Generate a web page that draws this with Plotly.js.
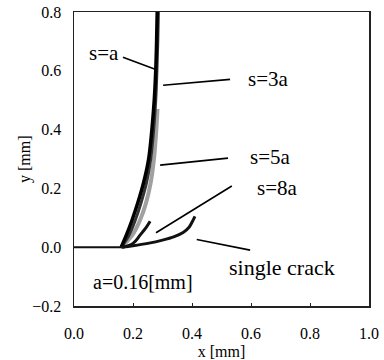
<!DOCTYPE html>
<html>
<head>
<meta charset="utf-8">
<script src="https://cdn.plot.ly/plotly-3.0.1.min.js"></script>
<style>html,body{margin:0;padding:0;background:#fff;}#chart{width:384px;height:360px;}</style>
</head>
<body>
<div id="chart"></div>
<script>
// Initial crack
const initX = [0.0, 0.16];
const initY = [0.0, 0.0];
// Crack paths for different spacing s
const sA_x  = [0.16, 0.177, 0.196, 0.216, 0.236, 0.253, 0.264, 0.272, 0.277, 0.280, 0.282];
const sA_y  = [0.00, 0.04, 0.09, 0.15, 0.22, 0.30, 0.40, 0.50, 0.60, 0.70, 0.80];
const s3A_x = [0.16, 0.186, 0.207, 0.227, 0.246, 0.260, 0.270, 0.277, 0.281, 0.284, 0.286];
const s3A_y = [0.00, 0.04, 0.09, 0.15, 0.22, 0.30, 0.40, 0.50, 0.60, 0.70, 0.80];
const s5A_x = [0.16, 0.197, 0.223, 0.244, 0.260, 0.271, 0.279, 0.283];
const s5A_y = [0.00, 0.04, 0.09, 0.15, 0.22, 0.30, 0.40, 0.47];
const s8A_x = [0.165, 0.20, 0.224, 0.246, 0.258];
const s8A_y = [0.00, 0.013, 0.041, 0.069, 0.088];
const single_x = [0.16, 0.20, 0.25, 0.30, 0.34, 0.37, 0.39, 0.40, 0.41];
const single_y = [0.00, 0.005, 0.013, 0.024, 0.036, 0.05, 0.068, 0.085, 0.105];
// Labels
const labels = ["s=a", "s=3a", "s=5a", "s=8a", "single crack"];
const noteText = "a=0.16[mm]";
const yTitle = "y [mm]";

const serif = "'Liberation Serif', 'Times New Roman', Times, serif";
const line = (x, y, color, w) => ({x, y, type: "scatter", mode: "lines", line: {color, width: w, shape: "spline"}, hoverinfo: "skip"});

const data = [
  line(initX, initY, "#111", 2),
  line(s5A_x, s5A_y, "#a0a0a0", 4),
  line(s3A_x, s3A_y, "#333", 3),
  line(sA_x, sA_y, "#000", 3.5),
  line(s8A_x, s8A_y, "#111", 3),
  line(single_x, single_y, "#111", 3)
];

// label placement (text centre) and leader line ends, in axis units
const labelPos = [[0.102, 0.66], [0.659, 0.571], [0.666, 0.306], [0.69, 0.20], [0.705, -0.07]];
const leaders = [
  [0.166, 0.646, 0.275, 0.605],
  [0.302, 0.551, 0.529, 0.571],
  [0.292, 0.279, 0.522, 0.303],
  [0.278, 0.049, 0.535, 0.208],
  [0.416, 0.026, 0.597, -0.01]
];

const labelSizes = [21, 21, 21, 21, 22];
const annotations = labels.map((t, i) => ({
  x: labelPos[i][0], y: labelPos[i][1], xref: "x", yref: "y", text: t, showarrow: false,
  font: {family: serif, size: labelSizes[i], color: "#000"}, xanchor: "center", yanchor: "middle"
}));
annotations.push({x: 0.058, y: -0.119, xref: "x", yref: "y", text: noteText, showarrow: false,
  font: {family: serif, size: 20, color: "#000"}, xanchor: "left", yanchor: "middle"});
annotations.push({x: -0.166, y: 0.5, xref: "paper", yref: "paper", text: yTitle, showarrow: false, textangle: -90,
  font: {family: serif, size: 16, color: "#000"}, xanchor: "center", yanchor: "middle"});

const shapes = leaders.map(l => ({type: "line", xref: "x", yref: "y", x0: l[0], y0: l[1], x1: l[2], y1: l[3], line: {color: "#000", width: 1.6}}));

const layout = {
  width: 384, height: 360,
  margin: {l: 74, r: 15, t: 12, b: 54},
  paper_bgcolor: "#fff", plot_bgcolor: "#fff",
  showlegend: false,
  font: {family: serif, color: "#000"},
  xaxis: {
    range: [0, 1], dtick: 0.2, tickformat: ".1f", showgrid: false, zeroline: false,
    showline: true, linecolor: "#222", linewidth: 1.5, mirror: true,
    ticks: "inside", ticklen: 3, tickcolor: "#222",
    tickfont: {family: serif, size: 16, color: "#000"}, ticklabelstandoff: 12,
    title: {text: "x [mm]", font: {family: serif, size: 16, color: "#000"}}
  },
  yaxis: {
    range: [-0.2, 0.8], dtick: 0.2, tickformat: ".1f", showgrid: false, zeroline: false,
    showline: true, linecolor: "#222", linewidth: 1.5, mirror: true,
    ticks: "", tickfont: {family: serif, size: 16, color: "#000"}, ticklabelstandoff: 8
  },
  annotations, shapes
};

Plotly.newPlot("chart", data, layout, {staticPlot: true, displayModeBar: false});
</script>
</body>
</html>
